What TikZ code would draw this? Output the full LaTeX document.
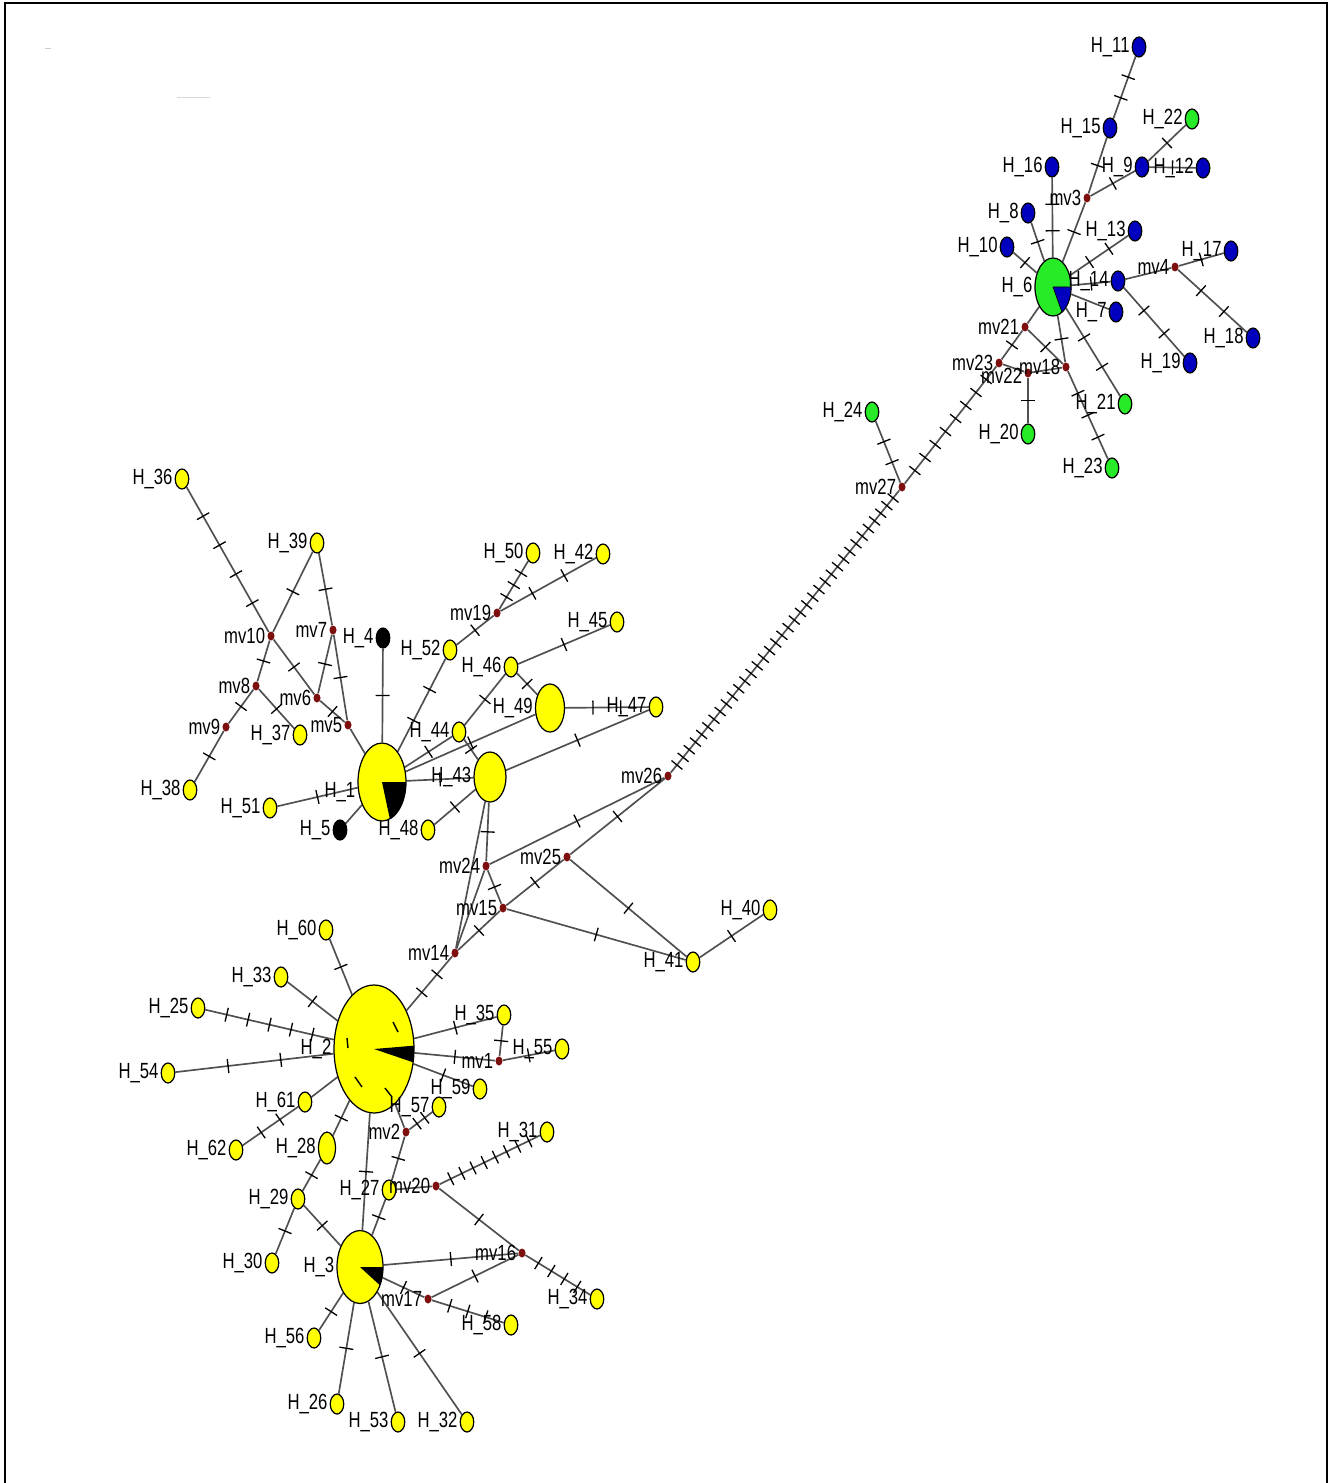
\documentclass[tikz,border=0pt]{standalone}
\usepackage{fontspec}
\setmainfont{Liberation Sans}[FakeStretch=0.76]
\usetikzlibrary{shapes.geometric}

\definecolor{hapyel}{RGB}{255,255,0}
\definecolor{hapgrn}{RGB}{40,235,40}
\definecolor{hapblu}{RGB}{0,0,190}
\definecolor{medred}{RGB}{125,15,15}
\definecolor{netgray}{RGB}{80,80,80}

\pgfdeclarelayer{bg}
\pgfsetlayers{bg,main}

\tikzset{
  hap/.style={ellipse, draw=black, line width=0.7pt, inner sep=0pt,
    minimum width=0.27cm, minimum height=0.4cm},
  yhap/.style={hap, fill=hapyel},
  ghap/.style={hap, fill=hapgrn},
  bhap/.style={hap, fill=hapblu},
  khap/.style={hap, fill=black},
  med/.style={ellipse, fill=medred, inner sep=0pt,
    minimum width=0.14cm, minimum height=0.18cm},
  lbl/.style={inner sep=1pt},
  netline/.style={draw=netgray, line width=0.95pt},
  mut/.style={sloped, inner sep=0pt, outer sep=0pt}
}

\newcommand\mutedge[3]{%
  \draw[netline] (#1) -- (#2);
  \ifnum#3>0\relax
    \foreach \k in {1,...,#3}{%
      \pgfmathsetmacro\tpos{\k/(#3+1)}
      \path (#1) -- (#2) node[mut, pos=\tpos] {\rule[-4pt]{0.75pt}{8pt}};
    }%
  \fi}

\begin{document}
\begin{tikzpicture}[x=0.02cm, y=-0.02cm, font=\fontsize{12.5}{14}\selectfont]
  \useasboundingbox (0,0) rectangle (1331,1483);
  \draw[line width=1.2pt] (5,1483) -- (5,3) -- (1327,3) -- (1327,1483);
  \draw[gray!40] (45,48) -- (51,48);
  \draw[gray!30] (177,97) -- (210,97);

  % blue and green group
  \node[bhap, label={[lbl]left:H\_11}] (h11) at (1139,47) {};
  \node[bhap, label={[lbl]left:H\_15}] (h15) at (1110,128) {};
  \node[ghap, label={[lbl]left:H\_22}] (h22) at (1192,119) {};
  \node[bhap, label={[lbl]left:H\_16}] (h16) at (1052,167) {};
  \node[bhap, label={[lbl]left:H\_9}] (h9) at (1142,167) {};
  \node[bhap, label={[lbl]left:H\_12}] (h12) at (1203,168) {};
  \node[med, label={[lbl]left:mv3}] (mv3) at (1087,198) {};
  \node[bhap, label={[lbl]left:H\_8}] (h8) at (1028,213) {};
  \node[bhap, label={[lbl]left:H\_13}] (h13) at (1135,231) {};
  \node[bhap, label={[lbl]left:H\_10}] (h10) at (1007,247) {};
  \node[bhap, label={[lbl]left:H\_17}] (h17) at (1231,251) {};
  \node[med, label={[lbl]left:mv4}] (mv4) at (1175,267) {};
  \node[ghap, minimum width=0.72cm, minimum height=1.16cm,
    label={[lbl]left:H\_6}] (h6) at (1053,287) {};
  \node[bhap, label={[lbl]left:H\_14}] (h14) at (1118,281) {};
  \node[bhap, label={[lbl]left:H\_7}] (h7) at (1116,312) {};
  \node[bhap, label={[lbl]left:H\_18}] (h18) at (1253,338) {};
  \node[bhap, label={[lbl]left:H\_19}] (h19) at (1190,363) {};
  \node[med, label={[lbl]left:mv21}] (mv21) at (1025,327) {};
  \node[med, label={[lbl]left:mv23}] (mv23) at (999,363) {};
  \node[med, label={[lbl, yshift=-0.05cm]left:mv22}] (mv22) at (1028,373) {};
  \node[med, label={[lbl]left:mv18}] (mv18) at (1066,367) {};
  \node[ghap, label={[lbl]left:H\_21}] (h21) at (1125,404) {};
  \node[ghap, label={[lbl]left:H\_20}] (h20) at (1028,434) {};
  \node[ghap, label={[lbl]left:H\_23}] (h23) at (1112,468) {};
  \node[ghap, label={[lbl]left:H\_24}] (h24) at (872,412) {};
  \node[med, label={[lbl]left:mv27}] (mv27) at (902,487) {};
  \node[med, label={[lbl]left:mv26}] (mv26) at (668,776) {};

  % upper yellow group
  \node[yhap, label={[lbl]left:H\_36}] (h36) at (182,479) {};
  \node[yhap, label={[lbl]left:H\_39}] (h39) at (317,543) {};
  \node[med, label={[lbl]left:mv10}] (mv10) at (271,636) {};
  \node[med, label={[lbl]left:mv7}] (mv7) at (333,630) {};
  \node[khap, label={[lbl]left:H\_4}] (h4) at (383,638) {};
  \node[yhap, label={[lbl]left:H\_52}] (h52) at (450,650) {};
  \node[med, label={[lbl]left:mv8}] (mv8) at (256,686) {};
  \node[med, label={[lbl]left:mv6}] (mv6) at (317,698) {};
  \node[med, label={[lbl]left:mv9}] (mv9) at (226,727) {};
  \node[yhap, label={[lbl]left:H\_37}] (h37) at (300,735) {};
  \node[med, label={[lbl]left:mv5}] (mv5) at (348,725) {};
  \node[yhap, label={[lbl]left:H\_44}] (h44) at (459,732) {};
  \node[yhap, minimum width=0.96cm, minimum height=1.56cm,
    label={[lbl, yshift=-0.2cm]left:H\_1}] (h1) at (382,782) {};
  \node[yhap, label={[lbl]left:H\_38}] (h38) at (190,790) {};
  \node[yhap, label={[lbl]left:H\_51}] (h51) at (270,808) {};
  \node[khap, label={[lbl]left:H\_5}] (h5) at (340,830) {};
  \node[yhap, label={[lbl]left:H\_48}] (h48) at (428,830) {};
  \node[yhap, label={[lbl]left:H\_50}] (h50) at (533,553) {};
  \node[yhap, label={[lbl]left:H\_42}] (h42) at (603,554) {};
  \node[med, label={[lbl]left:mv19}] (mv19) at (497,613) {};
  \node[yhap, label={[lbl]left:H\_45}] (h45) at (617,622) {};
  \node[yhap, label={[lbl]left:H\_46}] (h46) at (511,667) {};
  \node[yhap, minimum width=0.58cm, minimum height=0.96cm,
    label={[lbl]left:H\_49}] (h49) at (550,708) {};
  \node[yhap, label={[lbl]left:H\_47}] (h47) at (656,707) {};
  \node[yhap, minimum width=0.64cm, minimum height=1.0cm,
    label={[lbl]left:H\_43}] (h43) at (490,777) {};
  \node[med, label={[lbl]left:mv24}] (mv24) at (486,866) {};
  \node[med, label={[lbl]left:mv25}] (mv25) at (567,857) {};
  \node[med, label={[lbl]left:mv15}] (mv15) at (503,908) {};
  \node[med, label={[lbl]left:mv14}] (mv14) at (455,953) {};
  \node[yhap, label={[lbl]left:H\_41}] (h41) at (693,962) {};
  \node[yhap, label={[lbl]left:H\_40}] (h40) at (770,910) {};

  % lower yellow group
  \node[yhap, label={[lbl]left:H\_60}] (h60) at (326,930) {};
  \node[yhap, label={[lbl]left:H\_33}] (h33) at (281,977) {};
  \node[yhap, label={[lbl]left:H\_25}] (h25) at (198,1008) {};
  \node[yhap, label={[lbl]left:H\_54}] (h54) at (168,1073) {};
  \node[yhap, minimum width=1.6cm, minimum height=2.56cm,
    label={[lbl]left:H\_2}] (h2) at (374,1049) {};
  \node[yhap, label={[lbl]left:H\_35}] (h35) at (504,1015) {};
  \node[med, label={[lbl]left:mv1}] (mv1) at (499,1061) {};
  \node[yhap, label={[lbl]left:H\_55}] (h55) at (562,1049) {};
  \node[yhap, label={[lbl]left:H\_59}] (h59) at (480,1089) {};
  \node[yhap, label={[lbl]left:H\_61}] (h61) at (305,1102) {};
  \node[yhap, label={[lbl]left:H\_57}] (h57) at (439,1107) {};
  \node[med, label={[lbl]left:mv2}] (mv2) at (406,1132) {};
  \node[yhap, label={[lbl]left:H\_31}] (h31) at (547,1132) {};
  \node[yhap, label={[lbl]left:H\_62}] (h62) at (236,1150) {};
  \node[yhap, minimum width=0.34cm, minimum height=0.64cm,
    label={[lbl]left:H\_28}] (h28) at (327,1148) {};
  \node[yhap, label={[lbl]left:H\_27}] (h27) at (389,1190) {};
  \node[med, label={[lbl]left:mv20}] (mv20) at (436,1186) {};
  \node[yhap, label={[lbl]left:H\_29}] (h29) at (298,1199) {};
  \node[yhap, label={[lbl]left:H\_30}] (h30) at (272,1263) {};
  \node[yhap, minimum width=0.92cm, minimum height=1.46cm,
    label={[lbl]left:H\_3}] (h3) at (360,1267) {};
  \node[med, label={[lbl]left:mv16}] (mv16) at (522,1253) {};
  \node[yhap, label={[lbl]left:H\_34}] (h34) at (597,1299) {};
  \node[med, label={[lbl]left:mv17}] (mv17) at (428,1299) {};
  \node[yhap, label={[lbl]left:H\_58}] (h58) at (511,1325) {};
  \node[yhap, label={[lbl]left:H\_56}] (h56) at (314,1338) {};
  \node[yhap, label={[lbl]left:H\_26}] (h26) at (337,1404) {};
  \node[yhap, label={[lbl]left:H\_53}] (h53) at (398,1422) {};
  \node[yhap, label={[lbl]left:H\_32}] (h32) at (467,1422) {};

  % pie slices
  \filldraw[fill=hapblu, line width=0.4pt] (h6.center) -- ++(0:0.36cm and 0.58cm)
    arc[start angle=0, end angle=-60, x radius=0.36cm, y radius=0.58cm] -- cycle;
  \fill[black] (h1.center) -- ++(0:0.48cm and 0.78cm)
    arc[start angle=0, end angle=-71, x radius=0.48cm, y radius=0.78cm] -- cycle;
  \fill[black] (h2.center) -- ++(3:0.8cm and 1.28cm)
    arc[start angle=3, end angle=-12, x radius=0.8cm, y radius=1.28cm] -- cycle;
  \fill[black] (h3.center) -- ++(0:0.46cm and 0.73cm)
    arc[start angle=0, end angle=-30, x radius=0.46cm, y radius=0.73cm] -- cycle;
  \draw[line width=0.8pt] (347,1038) -- (348,1048);
  \draw[line width=0.8pt] (393,1022) -- (398,1032);
  \draw[line width=0.8pt] (355,1077) -- (362,1087);
  \draw[line width=0.8pt] (385,1088) -- (392,1097);

  \begin{pgfonlayer}{bg}
    \mutedge{h11}{h15}{2}
    \mutedge{h15}{mv3}{1}
    \mutedge{mv3}{h6}{1}
    \mutedge{mv3}{h9}{1}
    \mutedge{h9}{h22}{1}
    \mutedge{h9}{h12}{1}
    \mutedge{h16}{h6}{2}
    \mutedge{h8}{h6}{1}
    \mutedge{h10}{h6}{1}
    \mutedge{h13}{h6}{2}
    \mutedge{h14}{h6}{1}
    \mutedge{h14}{mv4}{0}
    \mutedge{mv4}{h17}{1}
    \mutedge{mv4}{h18}{2}
    \mutedge{h14}{h19}{2}
    \mutedge{h6}{h7}{0}
    \mutedge{h6}{mv21}{0}
    \mutedge{h6}{mv18}{1}
    \mutedge{h6}{h21}{2}
    \mutedge{mv21}{mv23}{1}
    \mutedge{mv21}{mv18}{1}
    \mutedge{mv23}{mv22}{0}
    \mutedge{mv22}{mv18}{0}
    \mutedge{mv22}{h20}{1}
    \mutedge{mv18}{h23}{3}
    \mutedge{mv23}{mv27}{8}
    \mutedge{h24}{mv27}{2}
    \mutedge{mv27}{mv26}{36}

    \mutedge{mv26}{mv24}{1}
    \mutedge{mv26}{mv25}{1}
    \mutedge{mv25}{mv15}{1}
    \mutedge{mv25}{h41}{1}
    \mutedge{mv15}{h41}{1}
    \mutedge{h41}{h40}{1}
    \mutedge{mv24}{mv15}{1}
    \mutedge{mv14}{mv15}{1}
    \mutedge{mv24}{mv14}{0}
    \mutedge{h43}{mv14}{0}
    \mutedge{h43}{mv24}{1}
    \mutedge{mv14}{h2}{2}

    \mutedge{h36}{mv10}{4}
    \mutedge{mv10}{mv6}{1}
    \mutedge{mv6}{mv5}{1}
    \mutedge{h39}{mv10}{1}
    \mutedge{mv10}{mv8}{1}
    \mutedge{mv8}{mv9}{1}
    \mutedge{mv9}{h38}{1}
    \mutedge{mv8}{h37}{1}
    \mutedge{h39}{mv7}{1}
    \mutedge{mv7}{mv5}{1}
    \mutedge{mv7}{mv6}{1}
    \mutedge{mv5}{h1}{0}
    \mutedge{h4}{h1}{1}
    \mutedge{h52}{h1}{2}
    \mutedge{h52}{mv19}{1}
    \mutedge{mv19}{h50}{3}
    \mutedge{mv19}{h42}{2}
    \mutedge{h1}{h44}{1}
    \mutedge{h1}{h49}{1}
    \mutedge{h44}{h46}{1}
    \mutedge{h44}{h43}{1}
    \mutedge{h46}{h45}{1}
    \mutedge{h46}{h49}{1}
    \mutedge{h49}{h47}{2}
    \mutedge{h43}{h47}{1}
    \mutedge{h1}{h43}{1}
    \mutedge{h43}{h48}{1}
    \mutedge{h51}{h1}{1}
    \mutedge{h5}{h1}{0}

    \mutedge{h60}{h2}{1}
    \mutedge{h33}{h2}{1}
    \mutedge{h25}{h2}{5}
    \mutedge{h54}{h2}{2}
    \mutedge{h61}{h2}{0}
    \mutedge{h61}{h62}{2}
    \mutedge{h28}{h2}{1}
    \mutedge{h28}{h29}{1}
    \mutedge{h29}{h30}{1}
    \mutedge{h29}{h3}{1}
    \mutedge{h2}{h3}{1}
    \mutedge{h2}{mv2}{0}
    \mutedge{mv2}{h57}{2}
    \mutedge{mv2}{h27}{1}
    \mutedge{h27}{h3}{1}
    \mutedge{h27}{mv20}{0}
    \mutedge{mv20}{h31}{8}
    \mutedge{mv20}{mv16}{1}
    \mutedge{mv16}{h3}{1}
    \mutedge{mv16}{h34}{4}
    \mutedge{mv17}{mv16}{1}
    \mutedge{mv17}{h3}{1}
    \mutedge{mv17}{h58}{3}
    \mutedge{h35}{h2}{1}
    \mutedge{h35}{mv1}{1}
    \mutedge{mv1}{h2}{1}
    \mutedge{mv1}{h55}{1}
    \mutedge{h59}{h2}{1}
    \mutedge{h56}{h3}{1}
    \mutedge{h26}{h3}{1}
    \mutedge{h53}{h3}{1}
    \mutedge{h32}{h3}{1}
  \end{pgfonlayer}
\end{tikzpicture}
\end{document}
